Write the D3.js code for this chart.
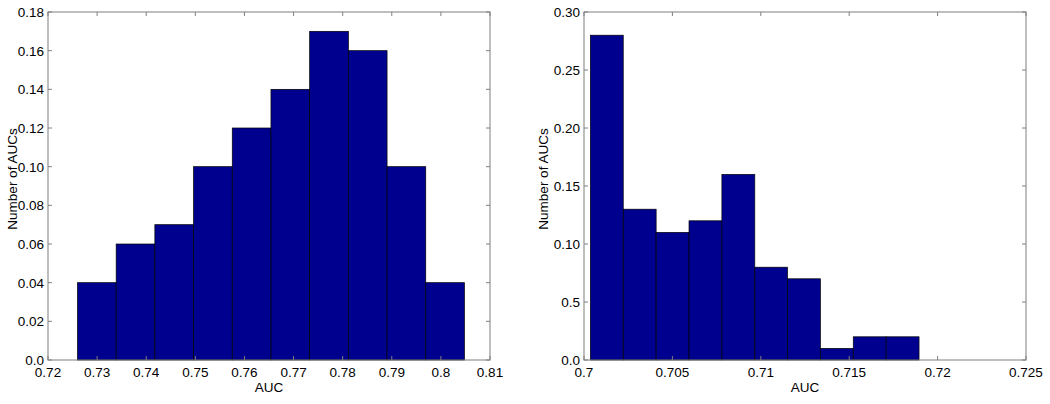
<!DOCTYPE html>
<html>
<head>
<meta charset="utf-8">
<script src="https://cdn.jsdelivr.net/npm/d3@7"></script>
<style>
  body { margin:0; background:#fff; }
  text { font-family: "Liberation Sans", Arial, sans-serif; fill:#000; }
</style>
</head>
<body>
<svg id="chart" width="1050" height="404"></svg>
<script>
// left histogram
const leftEdges = [0.7260, 0.73388, 0.74176, 0.74964, 0.75752, 0.7654, 0.77328, 0.78116, 0.78904, 0.79692, 0.8048];
const leftValues = [0.04, 0.06, 0.07, 0.10, 0.12, 0.14, 0.17, 0.16, 0.10, 0.04];
const leftXTicks = [0.72, 0.73, 0.74, 0.75, 0.76, 0.77, 0.78, 0.79, 0.80, 0.81];
const leftXLabels = ['0.72','0.73','0.74','0.75','0.76','0.77','0.78','0.79','0.8','0.81'];
const leftYTicks = [0, 0.02, 0.04, 0.06, 0.08, 0.10, 0.12, 0.14, 0.16, 0.18];
const leftYLabels = ['0.0','0.02','0.04','0.06','0.08','0.10','0.12','0.14','0.16','0.18'];

// right histogram
const rightEdges = [0.70036, 0.70222, 0.70408, 0.70594, 0.70780, 0.70966, 0.71151, 0.71337, 0.71523, 0.71709, 0.71895];
const rightValues = [0.28, 0.13, 0.11, 0.12, 0.16, 0.08, 0.07, 0.01, 0.02, 0.02];
const rightXTicks = [0.70, 0.705, 0.71, 0.715, 0.72, 0.725];
const rightXLabels = ['0.7','0.705','0.71','0.715','0.72','0.725'];
const rightYTicks = [0, 0.05, 0.10, 0.15, 0.20, 0.25, 0.30];
const rightYLabels = ['0.0','0.5','0.10','0.15','0.20','0.25','0.30'];

const panels = [
  {x0:48, x1:490, xdom:[0.72,0.81], ydom:[0,0.18], edges:leftEdges, values:leftValues,
   xt:leftXTicks, xl:leftXLabels, yt:leftYTicks, yl:leftYLabels, ylabOff:36},
  {x0:584, x1:1026, xdom:[0.70,0.725], ydom:[0,0.30], edges:rightEdges, values:rightValues,
   xt:rightXTicks, xl:rightXLabels, yt:rightYTicks, yl:rightYLabels, ylabOff:41}
];

const plotTop = 12, plotBottom = 360, tickLen = 4;
const axisColor = '#7f7f7f';
const fontSize = '13.5px';
const svg = d3.select('#chart');

panels.forEach(p => {
  const x = d3.scaleLinear().domain(p.xdom).range([p.x0, p.x1]);
  const y = d3.scaleLinear().domain(p.ydom).range([plotBottom, plotTop]);
  const g = svg.append('g');

  const bins = p.values.map((v,i) => ({x0:p.edges[i], x1:p.edges[i+1], v}));
  g.selectAll('rect.bar')
    .data(bins)
    .join('rect')
      .attr('class','bar')
      .attr('x', d => x(d.x0))
      .attr('y', d => y(d.v))
      .attr('width', d => x(d.x1) - x(d.x0))
      .attr('height', d => y(0) - y(d.v))
      .attr('fill','#00008f')
      .attr('stroke','#000')
      .attr('stroke-width',0.7);

  // box
  g.append('rect')
    .attr('x', p.x0).attr('y', plotTop)
    .attr('width', p.x1 - p.x0).attr('height', plotBottom - plotTop)
    .attr('fill','none').attr('stroke',axisColor).attr('stroke-width',1);

  // inward ticks on all sides
  const ticks = g.append('g').attr('stroke',axisColor).attr('stroke-width',1);
  p.xt.forEach(t => {
    ticks.append('line').attr('x1',x(t)).attr('x2',x(t)).attr('y1',plotBottom).attr('y2',plotBottom-tickLen);
    ticks.append('line').attr('x1',x(t)).attr('x2',x(t)).attr('y1',plotTop).attr('y2',plotTop+tickLen);
  });
  p.yt.forEach(t => {
    ticks.append('line').attr('x1',p.x0).attr('x2',p.x0+tickLen).attr('y1',y(t)).attr('y2',y(t));
    ticks.append('line').attr('x1',p.x1).attr('x2',p.x1-tickLen).attr('y1',y(t)).attr('y2',y(t));
  });

  g.selectAll('text.xt')
    .data(p.xt)
    .join('text')
      .attr('class','xt')
      .attr('x', d => x(d))
      .attr('y', plotBottom + 17)
      .attr('text-anchor','middle')
      .style('font-size',fontSize)
      .text((d,i) => p.xl[i]);

  g.selectAll('text.yt')
    .data(p.yt)
    .join('text')
      .attr('class','yt')
      .attr('x', p.x0 - 4)
      .attr('y', d => y(d) + 5)
      .attr('text-anchor','end')
      .style('font-size',fontSize)
      .text((d,i) => p.yl[i]);

  g.append('text')
    .attr('x', (p.x0 + p.x1)/2)
    .attr('y', 392)
    .attr('text-anchor','middle')
    .style('font-size',fontSize)
    .text('AUC');

  g.append('text')
    .attr('transform', `translate(${p.x0 - p.ylabOff},179) rotate(-90)`)
    .attr('text-anchor','middle')
    .attr('dy','0.35em')
    .style('font-size',fontSize)
    .text('Number of AUCs');
});
</script>
</body>
</html>
